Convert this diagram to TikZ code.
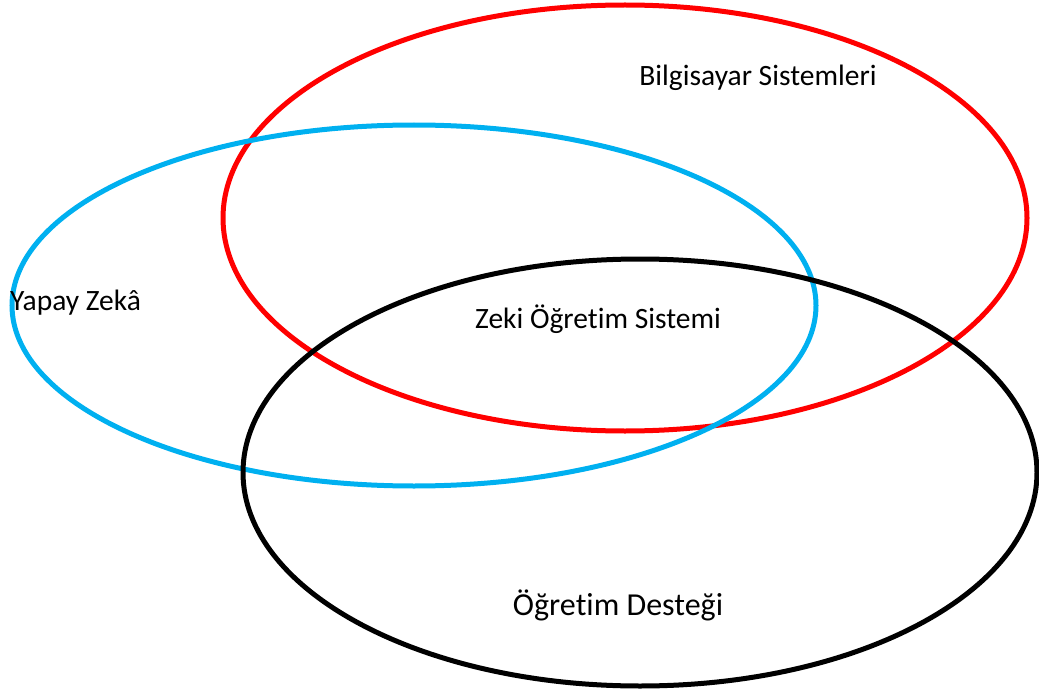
\documentclass[tikz,border=0pt]{standalone}
\usepackage{fontspec}
\setmainfont[Ligatures=NoCommon,Contextuals=NoAlternate]{Carlito}
\usetikzlibrary{positioning}
\definecolor{zekablue}{HTML}{00B0F0}
\tikzset{set line/.style={line width=5pt},
         set label/.style={font=\fontsize{29.5}{34}\selectfont,inner sep=0pt},
         big label/.style={set label,font=\fontsize{32}{38}\selectfont},
}

\begin{document}
\begin{tikzpicture}[x=1pt,y=-1pt]
\useasboundingbox (0,0) rectangle (1039,690);
% bilgisayar sistemleri
\draw[set line,red] (625,218) ellipse [x radius=402,y radius=213];
% yapay zeka
\draw[set line,zekablue] (414,305.5) ellipse [x radius=402,y radius=180.5];
% ogretim destegi
\draw[set line,black] (640,472.5) ellipse [x radius=397,y radius=213.5];

\node[set label] (bilgisayar) at (758,78) {Bilgisayar Sistemleri};
\node[set label,anchor=west] (yapay) at (10,303) {Yapay Zekâ};
\node[set label] (zeki) at (598,319) {Zeki Öğretim Sistemi};
\node[big label] (destek) at (618,605) {Öğretim Desteği};
\end{tikzpicture}
\end{document}
